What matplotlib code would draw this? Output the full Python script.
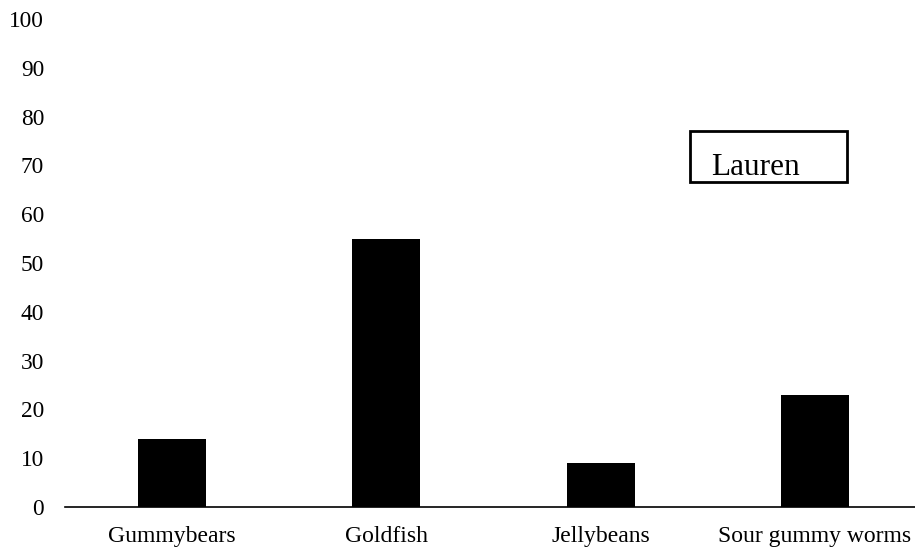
import matplotlib
matplotlib.use("Agg")
import matplotlib.pyplot as plt
from matplotlib.patches import Rectangle

categories = ["Gummybears", "Goldfish", "Jellybeans", "Sour gummy worms"]
values = [14, 55, 9, 23]
yticks = [0, 10, 20, 30, 40, 50, 60, 70, 80, 90, 100]
series_name = "Lauren"

plt.rcParams["font.family"] = ["Liberation Serif", "DejaVu Serif"]

W, H = 915, 552
fig = plt.figure(figsize=(W / 100, H / 100), dpi=100)
ax = fig.add_axes([65 / W, (H - 507) / H, 857 / W, 488 / H])

x = list(range(len(categories)))
ax.bar(x, values, width=0.318, color="black")

ax.set_xlim(-0.5, len(categories) - 0.5)
ax.set_ylim(0, 100)
ax.set_yticks(yticks)
ax.set_yticklabels([str(t) for t in yticks])
ax.set_xticks(x)
ax.set_xticklabels(categories)

for side in ("left", "top", "right"):
    ax.spines[side].set_visible(False)
ax.spines["bottom"].set_linewidth(1.2)
ax.spines["bottom"].set_color("black")

ax.tick_params(axis="y", length=0, pad=15, labelsize=16.8, labelcolor="black")
ax.tick_params(axis="x", length=0, pad=14, labelsize=17, labelcolor="black")

# Series name box
bx0, bx1 = 690 / W, 847 / W
by0, by1 = (H - 182) / H, (H - 131) / H
fig.patches.append(Rectangle((bx0, by0), bx1 - bx0, by1 - by0,
                             transform=fig.transFigure, fill=False,
                             edgecolor="black", linewidth=2.0))
fig.text(711 / W, (H - 175) / H, series_name, fontsize=22.5,
         ha="left", va="baseline", color="black")

fig.savefig("out.png", dpi=100, facecolor="white")
